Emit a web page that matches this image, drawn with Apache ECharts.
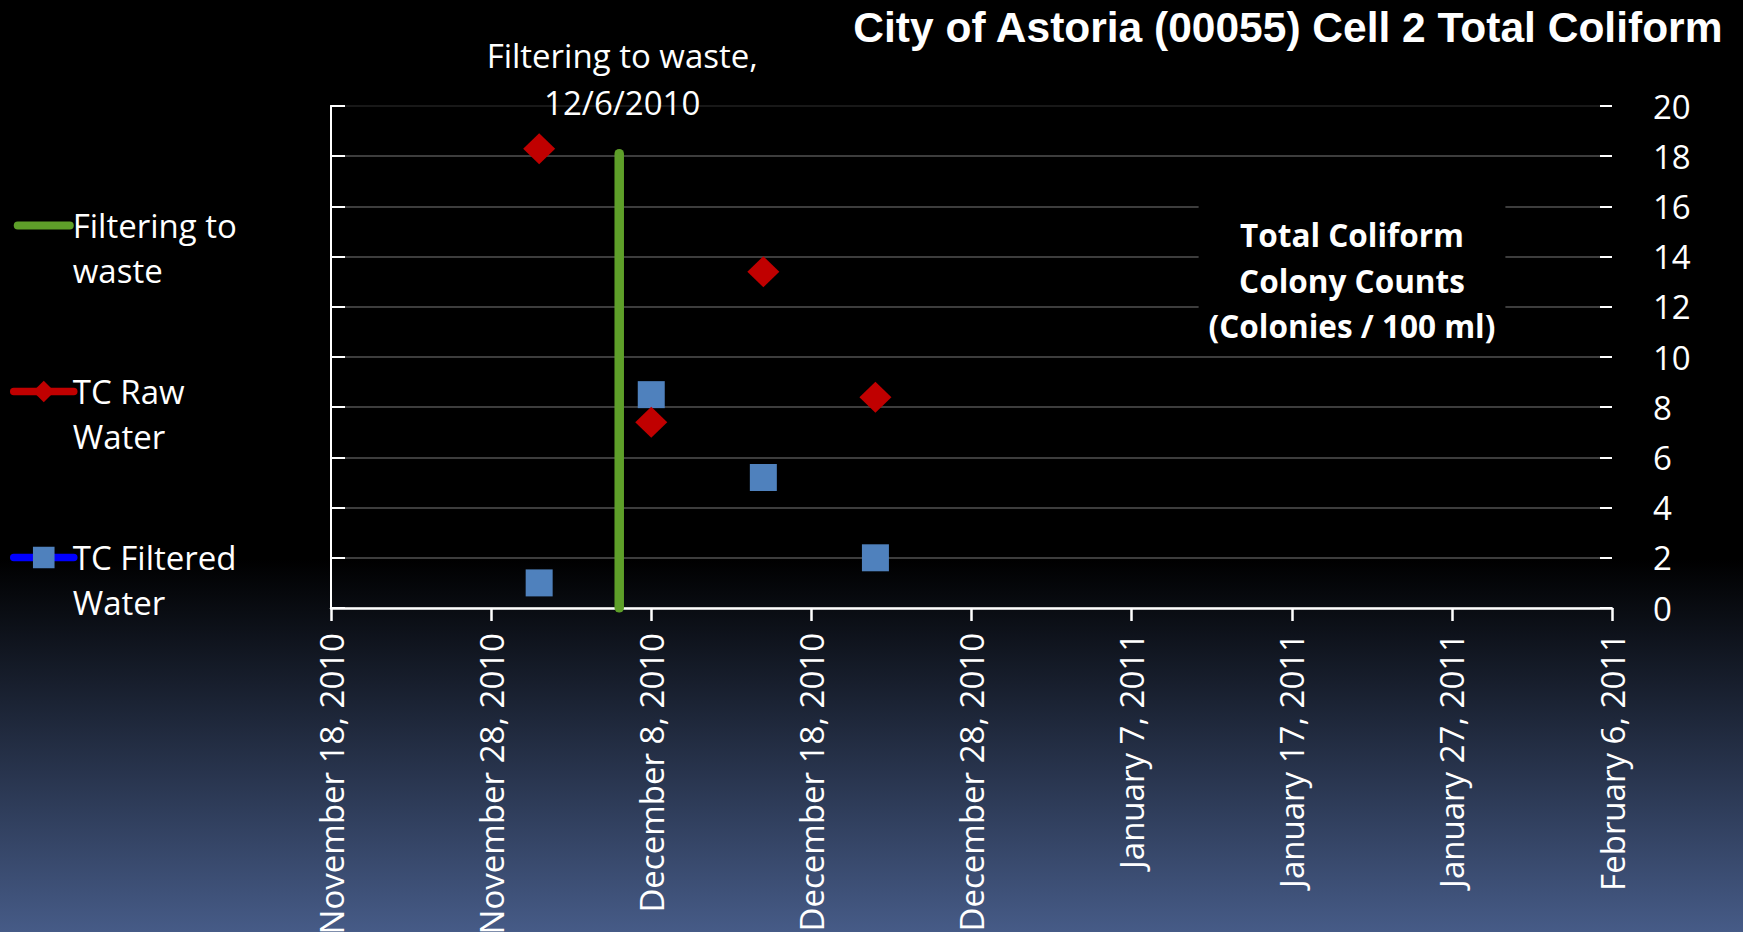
<!DOCTYPE html>
<html>
<head>
<meta charset="utf-8">
<title>City of Astoria (00055) Cell 2 Total Coliform</title>
<script src="https://cdn.jsdelivr.net/npm/echarts@6/dist/echarts.min.js"></script>
<style>
  html, body { margin: 0; padding: 0; background: #000; }
  #main { width: 1743px; height: 932px; }
</style>
</head>
<body>
<div id="main"></div>
<script>
// sampling days and colony counts (colonies / 100 ml)
const sampleDates = ["2010-12-01", "2010-12-08", "2010-12-15", "2010-12-22"];
const rawWater = [18.3, 7.4, 13.4, 8.4];
const filteredWater = [1, 8.5, 5.2, 2];

// start of filtering to waste, drawn as a vertical bar
const filterToWasteDate = "2010-12-06";
const filterToWasteRange = [0, 18.1];

// x axis runs every 10 days, y axis 0..20 by 2
const xStart = "2010-11-18";
const xEnd = "2011-02-06";
const xStepDays = 10;
const yMin = 0, yMax = 20, yStep = 2;

const legendLabels = {
  "Filtering to waste": ["Filtering to", "waste"],
  "TC Raw Water": ["TC Raw", "Water"],
  "TC Filtered Water": ["TC Filtered", "Water"]
};

const monthNames = ["January", "February", "March", "April", "May", "June", "July",
  "August", "September", "October", "November", "December"];
const DAY = 86400000;

function dayOf(s) {
  return (Date.parse(s) - Date.parse(xStart)) / DAY;
}
function dateLabel(v) {
  const d = new Date(Date.parse(xStart) + v * DAY);
  return monthNames[d.getUTCMonth()] + " " + d.getUTCDate() + ", " + d.getUTCFullYear();
}

const GREEN = "#5E9F29";
const RED = "#C00000";
const BLUE = "#4F81BD";
const FONT = "Open Sans";

// one colour per split line, the top one is almost hidden
const gridColors = [];
for (let v = yMin; v <= yMax; v += yStep) gridColors.push(v === yMax ? "#181818" : "#3d3d3d");

const chart = echarts.init(document.getElementById("main"), null, { renderer: "svg" });

chart.setOption({
  animation: false,
  backgroundColor: {
    type: "linear", x: 0, y: 0, x2: 0, y2: 1,
    colorStops: [
      { offset: 0, color: "#000000" },
      { offset: 0.6, color: "#000000" },
      { offset: 1, color: "#465b87" }
    ]
  },
  title: {
    text: "City of Astoria (00055) Cell 2 Total Coliform",
    right: 14,
    top: 1,
    textStyle: { color: "#fff", fontFamily: "Liberation Sans", fontWeight: "bold", fontSize: 42.5 }
  },
  legend: {
    orient: "vertical",
    left: 10,
    top: 158,
    padding: 0,
    itemGap: 31,
    itemWidth: 60,
    itemHeight: 27,
    selectedMode: false,
    // rich text so the top padding pushes the first line onto the icon
    formatter: name => legendLabels[name].map(s => "{l|" + s + "}").join("\n"),
    textStyle: {
      color: "#fff", fontFamily: FONT, fontSize: 33, lineHeight: 45,
      padding: [45, 0, 0, -6],
      rich: { l: { color: "#fff", fontFamily: FONT, fontSize: 33, lineHeight: 45 } }
    },
    data: [
      { name: "Filtering to waste", icon: "path://M4,0H56A4,4,0,0,1,56,8H4A4,4,0,0,1,4,0Z", itemStyle: { color: GREEN } },
      { name: "TC Raw Water", lineStyle: { color: RED, width: 7.5, cap: "round", opacity: 1 } },
      { name: "TC Filtered Water", lineStyle: { color: "#0000FF", width: 7.5, cap: "round", opacity: 1 } }
    ]
  },
  grid: { left: 331, right: 131, top: 106, bottom: 324, outerBoundsMode: "none" },
  xAxis: {
    type: "value",
    min: 0,
    max: dayOf(xEnd),
    interval: xStepDays,
    axisLine: { lineStyle: { color: "#fff", width: 2.5 } },
    axisTick: { length: 13, lineStyle: { color: "#fff", width: 2.5 } },
    axisLabel: {
      rotate: 90, margin: 25, color: "#fff", fontFamily: FONT, fontSize: 33,
      showMinLabel: true, showMaxLabel: true, formatter: dateLabel
    },
    splitLine: { show: false }
  },
  yAxis: [
    {
      type: "value", position: "right", min: yMin, max: yMax, interval: yStep,
      axisLine: { show: true, lineStyle: { color: "#fff", width: 2 } },
      axisTick: { show: true, length: 14, lineStyle: { color: "#fff", width: 2 } },
      axisLabel: { margin: 41, color: "#fff", fontFamily: FONT, fontSize: 33 },
      splitLine: { lineStyle: { color: gridColors, width: 2 } }
    },
    {
      // inner half of the crossing ticks
      type: "value", position: "right", min: yMin, max: yMax, interval: yStep,
      axisLine: { show: false },
      axisTick: { show: true, inside: true, length: 12, lineStyle: { color: "#fff", width: 2 } },
      axisLabel: { show: false },
      splitLine: { show: false }
    },
    {
      type: "value", position: "left", min: yMin, max: yMax, interval: yStep,
      axisLine: { show: true, lineStyle: { color: "#fff", width: 2 } },
      axisTick: { show: false },
      axisLabel: { show: false },
      splitLine: { show: false }
    }
  ],
  series: [
    {
      name: "Filtering to waste",
      type: "line",
      symbol: "none",
      data: filterToWasteRange.map(v => [dayOf(filterToWasteDate), v]),
      itemStyle: { color: GREEN },
      lineStyle: { color: GREEN, width: 9.5, cap: "round" },
      z: 1
    },
    {
      name: "TC Raw Water",
      type: "line",
      symbol: "diamond",
      symbolSize: [32, 31],
      data: sampleDates.map((d, i) => [dayOf(d), rawWater[i]]),
      itemStyle: { color: RED },
      lineStyle: { opacity: 0 },
      z: 3
    },
    {
      name: "TC Filtered Water",
      type: "line",
      symbol: "rect",
      symbolSize: 27,
      data: sampleDates.map((d, i) => [dayOf(d), filteredWater[i]]),
      itemStyle: { color: BLUE },
      lineStyle: { opacity: 0 },
      z: 2
    }
  ]
});

// texts placed next to the plot
const lineX = chart.convertToPixel({ xAxisIndex: 0 }, dayOf(filterToWasteDate));
chart.setOption({
  graphic: [
    {
      type: "text",
      style: {
        text: "Filtering to waste,\n12/6/2010",
        x: lineX + 3, y: 79,
        align: "center", verticalAlign: "middle",
        fill: "#fff", fontFamily: FONT, fontSize: 33, lineHeight: 47
      }
    },
    {
      type: "text",
      z: 10,
      style: {
        text: "Total Coliform\nColony Counts\n(Colonies / 100 ml)",
        x: 1352, y: 280,
        align: "center", verticalAlign: "middle",
        fill: "#fff", fontFamily: FONT, fontWeight: "bold", fontSize: 31.5, lineHeight: 45.5,
        backgroundColor: "#000", padding: [10, 10, 2, 10]
      }
    }
  ]
});
</script>
</body>
</html>
